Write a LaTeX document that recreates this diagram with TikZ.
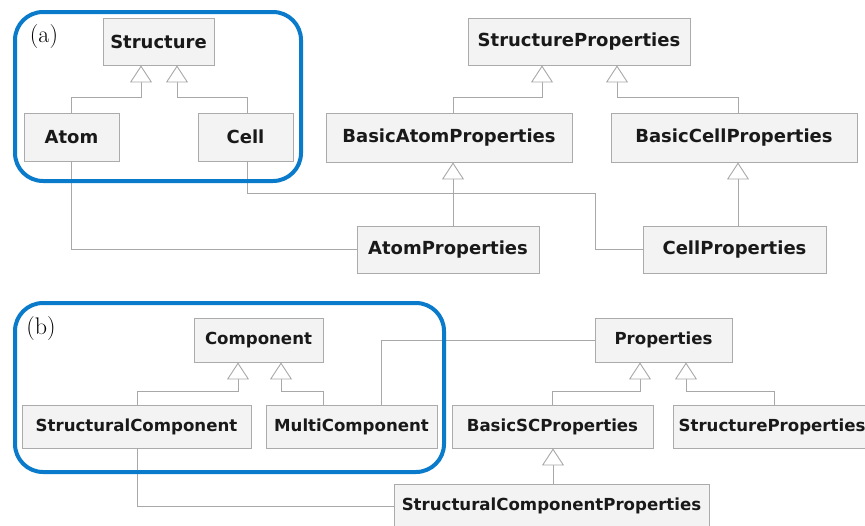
\documentclass[tikz,border=0pt]{standalone}
\usepackage{fontspec}
\newfontfamily\boxfont{DejaVu Sans}
\usetikzlibrary{arrows.meta}
\definecolor{boxfill}{HTML}{F3F3F3}
\definecolor{boxline}{HTML}{ABABAB}
\definecolor{conn}{HTML}{A8A8A8}
\definecolor{frameblue}{HTML}{0A7BCB}
\tikzset{
  clsA/.style={draw=boxline, fill=boxfill, line width=0.9pt, inner sep=0pt,
    font=\boxfont\bfseries\fontsize{18}{20}\selectfont, text=black!90},
  clsB/.style={draw=boxline, fill=boxfill, line width=0.9pt, inner sep=0pt,
    font=\boxfont\bfseries\fontsize{16.6}{19}\selectfont, text=black!90},
  conline/.style={draw=conn, line width=0.9pt},
  inh/.style={conline, -{Triangle[open, length=17pt, width=22pt, fill=white]}},
  grp/.style={draw=frameblue, line width=4pt, rounded corners=28pt},
  lbl/.style={font=\fontsize{24}{28}\selectfont, inner sep=0pt}
}
\begin{document}
\begin{tikzpicture}[x=1pt,y=-1pt]
\clip (0,0) rectangle (865,525);
\fill[white] (0,0) rectangle (865,525);

% ---------- (a) ----------
\node[clsA, minimum width=111pt, minimum height=47pt] (structure) at (158.5,41.5) {Structure};
\node[clsA, minimum width=95pt, minimum height=48pt] (atom) at (71.5,137) {Atom};
\node[clsA, minimum width=95pt, minimum height=48pt] (cell) at (245.5,137) {Cell};
\node[clsA, minimum width=222pt, minimum height=47pt] (sprops) at (579,41.5) {StructureProperties};
\node[clsA, minimum width=246pt, minimum height=49pt] (bap) at (449,137.5) {BasicAtomProperties};
\node[clsA, minimum width=246pt, minimum height=49pt] (bcp) at (734,137.5) {BasicCellProperties};
\node[clsA, minimum width=182pt, minimum height=47pt] (ap) at (448,249.5) {AtomProperties};
\node[clsA, minimum width=183pt, minimum height=47pt] (cp) at (734.5,249.5) {CellProperties};

\draw[inh] (atom.north) -- ++(0,-15) -| ([xshift=-17.5pt]structure.south);
\draw[inh] ([xshift=1.5pt]cell.north) -- ++(0,-15) -| ([xshift=18.5pt]structure.south);
\draw[inh] ([xshift=4pt]bap.north) -- ++(0,-15) -| ([xshift=-37pt]sprops.south);
\draw[inh] ([xshift=4pt]bcp.north) -- ++(0,-15) -| ([xshift=38pt]sprops.south);
\draw[inh] ([xshift=5pt]ap.north) -- ([xshift=4pt]bap.south);
\draw[inh] ([xshift=3.5pt]cp.north) -- ([xshift=4pt]bcp.south);
\draw[conline] (atom.south) |- (ap.west);
\draw[conline] ([xshift=1.5pt]cell.south) -- ++(0,32) -- ++(348,0) |- (cp.west);

\draw[grp] (15,12) rectangle (301,181);
\node[lbl] (la) at (44,37) {(a)};

% ---------- (b) ----------
\node[clsB, minimum width=129pt, minimum height=44pt] (component) at (258.5,340) {Component};
\node[clsB, minimum width=229pt, minimum height=43pt] (sc) at (136.5,426.5) {StructuralComponent};
\node[clsB, minimum width=171pt, minimum height=43pt] (mc) at (351.5,426.5) {MultiComponent};
\node[clsB, minimum width=137pt, minimum height=44pt] (props) at (663.5,340) {Properties};
\node[clsB, minimum width=201pt, minimum height=43pt] (bscp) at (552.5,426.5) {BasicSCProperties};
\node[clsB, minimum width=198pt, minimum height=43pt] (sp2) at (772,426.5) {StructureProperties};
\node[clsB, minimum width=315pt, minimum height=44pt] (scp) at (551.5,506) {StructuralComponentProperties};

\draw[inh] ([xshift=0.5pt]sc.north) -- ++(0,-13.5) -| ([xshift=-20.5pt]component.south);
\draw[inh] ([xshift=-28.5pt]mc.north) -- ++(0,-13.5) -| ([xshift=22.5pt]component.south);
\draw[conline] ([xshift=29.5pt]mc.north) |- (props.west);
\draw[inh] ([xshift=-0.5pt]bscp.north) -- ++(0,-13.5) -| ([xshift=-23.5pt]props.south);
\draw[inh] ([xshift=2pt]sp2.north) -- ++(0,-13.5) -| ([xshift=22.5pt]props.south);
\draw[inh] ([xshift=1.5pt]scp.north) -- ([xshift=0.5pt]bscp.south);
\draw[conline] ([xshift=0.5pt]sc.south) |- (scp.west);

\draw[grp] (15,303) rectangle (444,472);
\node[lbl] (lb) at (41,329) {(b)};
\end{tikzpicture}
\end{document}
